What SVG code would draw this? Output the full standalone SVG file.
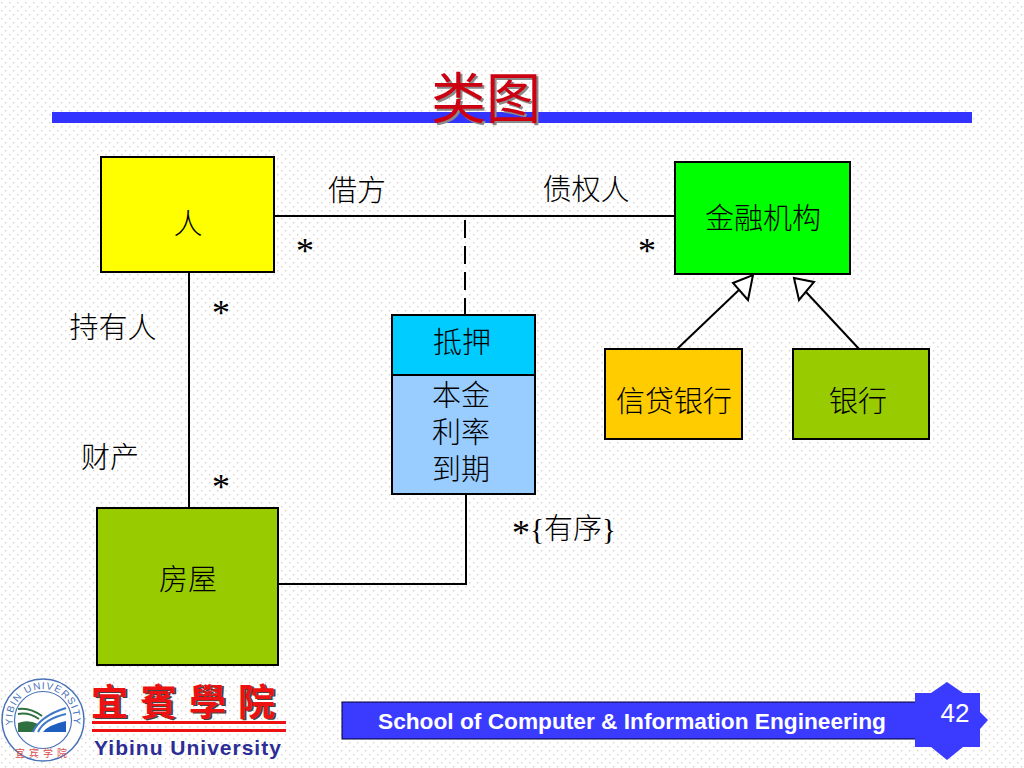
<svg xmlns="http://www.w3.org/2000/svg" xmlns:xlink="http://www.w3.org/1999/xlink" width="1024" height="768" viewBox="0 0 1024 768">
<style>
.box{stroke:#000;stroke-width:2}
.lbl{font-family:"Noto Sans CJK SC","Liberation Serif",serif;font-size:29px;font-weight:300;fill:#000;text-anchor:middle}
.star{font-family:"Liberation Serif",serif;font-size:36px;fill:#000;text-anchor:middle}
.conn{stroke:#000;stroke-width:2;fill:none}
.en{font-family:"Liberation Sans",Arial,sans-serif}
.head{fill:#fff;stroke:#000;stroke-width:2}
</style>
<defs>
<pattern id="dots" width="8" height="8" patternUnits="userSpaceOnUse">
<rect x="1" y="2" width="1.4" height="1.4" fill="#d6d0c8"/>
<rect x="5" y="6" width="1.4" height="1.4" fill="#d6d0c8"/>
</pattern>
<path id="sealArc" d="M13 725A30.5 30.5 0 1 1 73 725" fill="none"/>
</defs>
<rect width="1024" height="768" fill="#fff"/>
<rect width="1024" height="768" fill="url(#dots)"/>

<g id="title-bar">
<rect x="52" y="112" width="920" height="11" fill="#3333ff"/>
<text x="486" y="118" text-anchor="middle" font-family="'Noto Sans CJK SC',sans-serif" font-size="55" font-weight="400" fill="#8a8a8a" transform="translate(2 2)">类图</text>
<text x="486" y="118" text-anchor="middle" font-family="'Noto Sans CJK SC',sans-serif" font-size="55" font-weight="400" fill="#cc0011">类图</text>
</g>

<g id="connectors">
<path class="conn" d="M274 216H676"/>
<path class="conn" d="M465 220V316" stroke-dasharray="18 8"/>
<path class="conn" d="M189 272V508"/>
<path class="conn" d="M278 584H466V494"/>
<path class="conn" d="M676 350L741 288"/>
<path class="conn" d="M860 350L806 292"/>
<path class="head" d="M753 275L748 300L733 283Z"/>
<path class="head" d="M794 278L814 282L799 300Z"/>
</g>

<g id="node-person"><rect class="box" x="101" y="157" width="173" height="115" fill="#ffff00"/><text class="lbl" x="188" y="234">人</text></g>
<g id="node-bank-institution"><rect class="box" x="675" y="162" width="175" height="112" fill="#00ff00"/><text class="lbl" x="763" y="229">金融机构</text></g>
<g id="node-credit-bank"><rect class="box" x="605" y="349" width="137" height="90" fill="#ffcc00"/><text class="lbl" x="674" y="412">信贷银行</text></g>
<g id="node-bank"><rect class="box" x="793" y="349" width="136" height="90" fill="#99cc00"/><text class="lbl" x="858" y="412">银行</text></g>
<g id="node-house"><rect class="box" x="97" y="508" width="181" height="157" fill="#99cc00"/><text class="lbl" x="188" y="590">房屋</text></g>
<g id="node-mortgage">
<rect class="box" x="392" y="375" width="143" height="119" fill="#99ccff"/>
<rect class="box" x="392" y="315" width="143" height="60" fill="#00ccff"/>
<text class="lbl" x="462" y="353">抵押</text>
<text class="lbl"><tspan x="461" y="406">本金</tspan><tspan x="461" y="443">利率</tspan><tspan x="461" y="480">到期</tspan></text>
</g>

<g id="labels">
<text class="lbl" x="357" y="201">借方</text>
<text class="lbl" x="586" y="200">债权人</text>
<text class="lbl" x="113" y="338">持有人</text>
<text class="lbl" x="110" y="468">财产</text>
<text class="star" x="305" y="263">*</text>
<text class="star" x="647" y="263">*</text>
<text class="star" x="221" y="325">*</text>
<text class="star" x="221" y="499">*</text>
<text class="star" x="521" y="545">*</text>
<text class="lbl" x="573" y="539" style="font-family:'Liberation Serif','Noto Sans CJK SC',serif">{有序}</text>
</g>

<g id="footer">
<rect x="342" y="702" width="590" height="37" fill="#3b3bff" stroke="#000033" stroke-width="1"/>
<path d="M915 693H931L947 682L963 693H980V712L988 720L980 729V747H963L947 760L931 747H915Z" fill="#3b3bff"/>
<text class="en" x="632" y="729" text-anchor="middle" font-size="22.7" font-weight="700" fill="#fff">School of Computer &amp; Information Engineering</text>
<text class="en" x="955" y="722" text-anchor="middle" font-size="26" fill="#fff">42</text>
</g>

<g id="logo">
<circle cx="43" cy="720" r="41" fill="#fff" stroke="#4a72b8" stroke-width="1.5"/>
<circle cx="43" cy="720" r="28.5" fill="#fff" stroke="#4a72b8" stroke-width="1.2"/>
<text class="en" font-size="10" fill="#4a72b8" letter-spacing="1.1"><textPath xlink:href="#sealArc" href="#sealArc">YIBIN UNIVERSITY</textPath></text>
<path d="M18 723Q28 719 38 724Q34 727 33 732H18Z" fill="#2f7040"/>
<path d="M18 709Q30 707 42 716M18 714Q29 712 39 719" fill="none" stroke="#2f7040" stroke-width="2"/>
<path d="M43 732Q48 725 66 721V732Z" fill="#1f5fbf"/>
<path d="M33 732Q40 716 66 708M38 732Q44 719 66 714" fill="none" stroke="#3f78c8" stroke-width="2"/>
<text x="43" y="757" text-anchor="middle" font-family="'Noto Sans CJK SC',sans-serif" font-size="10" letter-spacing="4" fill="#d85050">宜宾学院</text>
<text x="91" y="716" font-family="'Noto Sans CJK TC',sans-serif" font-size="37" font-weight="700" letter-spacing="12" fill="#444" transform="translate(2 1)">宜賓學院</text>
<text x="91" y="716" font-family="'Noto Sans CJK TC',sans-serif" font-size="37" font-weight="700" letter-spacing="12" fill="#ee1111">宜賓學院</text>
<rect x="92" y="721" width="194" height="3" fill="#ee1111"/>
<rect x="92" y="729" width="194" height="3" fill="#ee1111"/>
<text class="en" x="188" y="755" text-anchor="middle" font-size="21" font-weight="700" letter-spacing="1" fill="#2d2d96">Yibinu University</text>
</g>
</svg>
